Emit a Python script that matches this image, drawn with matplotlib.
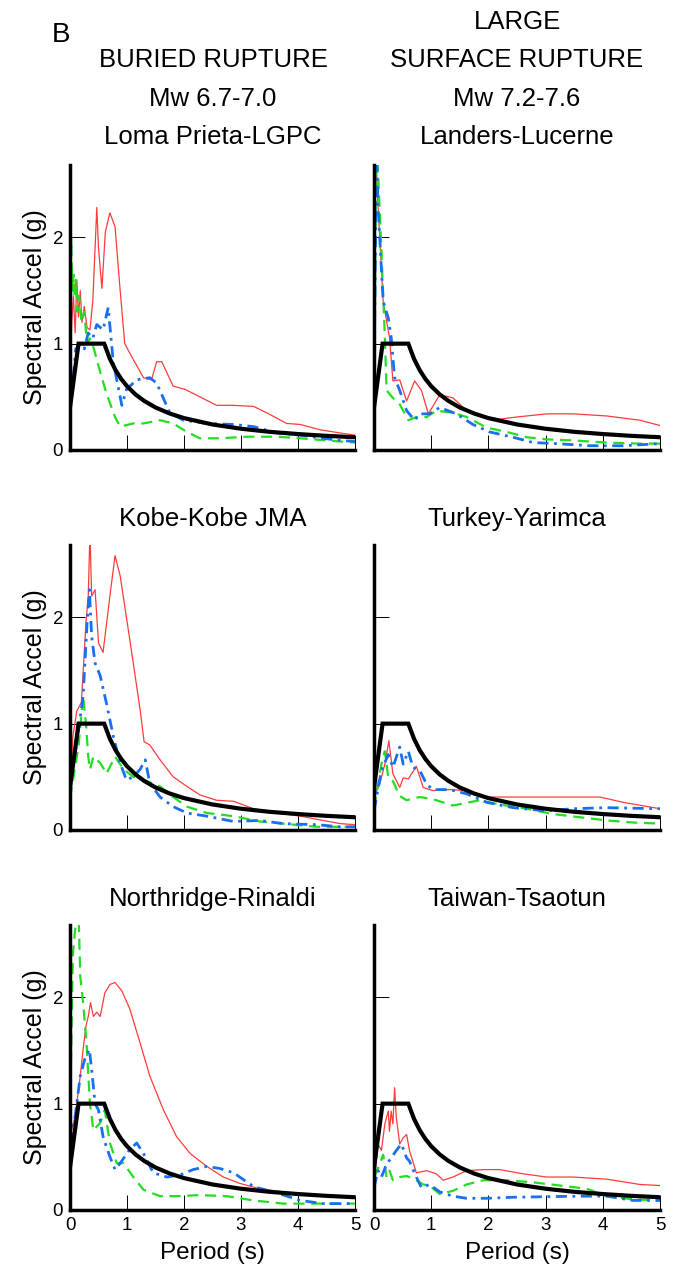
import matplotlib
matplotlib.use("Agg")
import matplotlib.pyplot as plt

plt.rcParams["font.family"] = ["Liberation Sans", "DejaVu Sans"]

# design spectrum (same in every panel)
design_T = [0, 0.15, 0.6, 0.7, 0.8, 0.9, 1.0, 1.15, 1.3, 1.5, 1.75, 2.0, 2.5, 3.0, 3.5, 4.0, 4.5, 5.0]
design_SA = [0.4, 1.0, 1.0, 0.857, 0.75, 0.667, 0.6, 0.522, 0.462, 0.4, 0.343, 0.3, 0.24, 0.2, 0.171, 0.15, 0.133, 0.12]

# Loma Prieta-LGPC
loma_red_T = [0, 0.03, 0.06, 0.09, 0.12, 0.15, 0.18, 0.21, 0.25, 0.3, 0.35, 0.4, 0.44, 0.47, 0.5, 0.56, 0.62, 0.7, 0.79, 0.88, 0.96,
              1.08, 1.29, 1.43, 1.52, 1.61, 1.81, 2.02, 2.28, 2.57, 2.87, 3.22, 3.45, 3.8, 4.04, 4.39, 4.74, 5.0]
loma_red = [0.69, 1.2, 1.45, 1.1, 1.6, 1.25, 1.5, 1.2, 1.35, 1.15, 1.13, 1.4, 1.9, 2.28, 1.9, 1.52, 2.05, 2.23, 2.1, 1.5, 1.0,
            0.88, 0.68, 0.66, 0.83, 0.83, 0.6, 0.57, 0.5, 0.42, 0.42, 0.41, 0.35, 0.25, 0.24, 0.19, 0.16, 0.14]
loma_blue_T = [0, 0.05, 0.1, 0.18, 0.25, 0.32, 0.4, 0.47, 0.58, 0.67, 0.76, 0.91, 0.99, 1.17, 1.4, 1.52, 1.75, 1.99, 2.4,
               2.87, 3.22, 3.63, 4.04, 4.44, 4.74, 5.0]
loma_blue = [0.45, 0.63, 0.95, 1.0, 0.95, 1.1, 1.05, 1.18, 1.13, 1.34, 0.82, 0.42, 0.57, 0.66, 0.68, 0.63, 0.35, 0.28, 0.25,
             0.24, 0.22, 0.16, 0.14, 0.11, 0.09, 0.08]
loma_green_T = [0, 0.02, 0.04, 0.06, 0.08, 0.1, 0.13, 0.16, 0.2, 0.25, 0.3, 0.35, 0.42, 0.5, 0.64, 0.79, 0.88, 1.11, 1.29,
                1.58, 1.81, 2.05, 2.28, 2.63, 3.1, 3.63, 4.04, 4.74, 5.0]
loma_green = [0.9, 2.0, 1.5, 1.65, 1.45, 1.6, 1.3, 1.45, 1.2, 1.3, 1.0, 1.05, 0.95, 0.79, 0.53, 0.31, 0.22, 0.25, 0.25,
              0.28, 0.25, 0.17, 0.11, 0.11, 0.125, 0.125, 0.11, 0.08, 0.07]

# Landers-Lucerne
landers_red_T = [0, 0.03, 0.06, 0.1, 0.16, 0.27, 0.33, 0.45, 0.57, 0.71, 0.83, 0.95, 1.15, 1.38, 1.62, 1.91, 2.2, 2.49,
                 3.02, 3.48, 4.07, 4.65, 5.0]
landers_red = [0.6, 2.9, 2.4, 2.0, 1.4, 1.06, 0.65, 0.66, 0.46, 0.65, 0.56, 0.34, 0.52, 0.49, 0.37, 0.31, 0.29, 0.31,
               0.34, 0.34, 0.32, 0.28, 0.23]
landers_blue_T = [0, 0.04, 0.07, 0.1, 0.16, 0.25, 0.3, 0.36, 0.45, 0.57, 0.71, 0.8, 0.97, 1.15, 1.44, 1.73, 2.02, 2.43,
                  2.78, 3.19, 3.77, 4.36, 5.0]
landers_blue = [0.5, 2.9, 2.3, 2.0, 1.4, 1.24, 1.06, 0.68, 0.56, 0.37, 0.28, 0.34, 0.34, 0.4, 0.34, 0.24, 0.17, 0.12,
                0.07, 0.06, 0.04, 0.04, 0.06]
landers_green_T = [0, 0.04, 0.08, 0.13, 0.19, 0.22, 0.33, 0.45, 0.6, 0.74, 0.92, 1.09, 1.38, 1.62, 1.97, 2.32, 2.67,
                   3.02, 3.48, 4.07, 4.65, 5.0]
landers_green = [0.4, 2.9, 2.5, 1.87, 1.06, 0.56, 0.49, 0.43, 0.28, 0.31, 0.31, 0.37, 0.35, 0.31, 0.21, 0.17, 0.12,
                 0.1, 0.09, 0.07, 0.06, 0.06]

# Kobe-Kobe JMA
kobe_red_T = [0, 0.05, 0.12, 0.2, 0.28, 0.32, 0.35, 0.38, 0.44, 0.5, 0.58, 0.7, 0.79, 0.88, 0.99, 1.11, 1.23, 1.3, 1.4,
              1.58, 1.81, 2.05, 2.28, 2.57, 2.87, 3.22, 3.63, 4.04, 4.44, 4.74, 5.0]
kobe_red = [0.4, 0.88, 1.12, 1.2, 1.95, 2.2, 2.8, 2.2, 2.26, 1.76, 1.67, 2.2, 2.58, 2.39, 2.0, 1.57, 1.13, 0.83, 0.8,
            0.66, 0.5, 0.41, 0.33, 0.28, 0.27, 0.2, 0.16, 0.13, 0.09, 0.06, 0.05]
kobe_blue_T = [0, 0.12, 0.23, 0.3, 0.34, 0.38, 0.44, 0.53, 0.64, 0.76, 0.88, 0.99, 1.11, 1.23, 1.32, 1.4, 1.58, 1.81,
               2.05, 2.4, 2.87, 3.33, 3.74, 4.33, 4.74, 5.0]
kobe_blue = [0.45, 0.82, 1.26, 1.95, 2.26, 1.82, 1.57, 1.45, 1.19, 0.88, 0.63, 0.47, 0.5, 0.57, 0.66, 0.44, 0.31, 0.22,
             0.16, 0.13, 0.08, 0.09, 0.06, 0.05, 0.03, 0.03]
kobe_green_T = [0, 0.15, 0.23, 0.28, 0.32, 0.35, 0.41, 0.53, 0.64, 0.79, 0.94, 1.11, 1.35, 1.58, 1.81, 2.05, 2.4, 2.87,
                3.33, 3.74, 4.33, 4.74, 5.0]
kobe_green = [0.3, 0.79, 1.26, 1.0, 0.69, 0.57, 0.69, 0.63, 0.53, 0.69, 0.57, 0.5, 0.46, 0.41, 0.31, 0.22, 0.16, 0.13,
              0.08, 0.06, 0.03, 0.03, 0.03]

# Turkey-Yarimca
turkey_red_T = [0, 0.1, 0.19, 0.26, 0.33, 0.45, 0.51, 0.6, 0.74, 0.86, 1.03, 1.32, 1.62, 1.97, 2.49, 3.02, 3.95, 4.36, 5.0]
turkey_red = [0.31, 0.43, 0.62, 0.84, 0.53, 0.4, 0.49, 0.48, 0.6, 0.4, 0.37, 0.38, 0.37, 0.31, 0.31, 0.31, 0.31, 0.26, 0.2]
turkey_blue_T = [0, 0.13, 0.25, 0.33, 0.45, 0.51, 0.6, 0.68, 0.8, 0.92, 1.03, 1.32, 1.62, 1.97, 2.43, 3.02, 3.48, 4.07, 5.0]
turkey_blue = [0.18, 0.56, 0.71, 0.59, 0.78, 0.62, 0.74, 0.59, 0.56, 0.43, 0.38, 0.38, 0.34, 0.26, 0.21, 0.18, 0.2, 0.21, 0.2]
turkey_green_T = [0, 0.13, 0.19, 0.25, 0.33, 0.45, 0.57, 0.8, 1.03, 1.38, 1.85, 2.2, 2.67, 3.13, 3.6, 4.07, 4.53, 5.0]
turkey_green = [0.21, 0.62, 0.74, 0.49, 0.46, 0.32, 0.28, 0.31, 0.29, 0.23, 0.28, 0.24, 0.2, 0.15, 0.12, 0.09, 0.07, 0.06]

# Northridge-Rinaldi
north_red_T = [0, 0.09, 0.18, 0.23, 0.28, 0.32, 0.36, 0.41, 0.47, 0.53, 0.61, 0.7, 0.79, 0.91, 1.05, 1.23, 1.4, 1.64, 1.87,
               2.11, 2.4, 2.69, 2.98, 3.33, 3.74, 4.33, 4.74, 5.0]
north_red = [0.69, 0.88, 1.26, 1.51, 1.73, 1.82, 1.95, 1.82, 1.86, 1.82, 2.04, 2.12, 2.14, 2.06, 1.89, 1.57, 1.26, 0.94,
             0.69, 0.53, 0.41, 0.31, 0.25, 0.2, 0.17, 0.14, 0.13, 0.12]
north_blue_T = [0, 0.09, 0.18, 0.26, 0.34, 0.38, 0.44, 0.5, 0.58, 0.7, 0.79, 0.88, 1.05, 1.17, 1.29, 1.46, 1.7, 1.93, 2.16,
                2.4, 2.63, 2.87, 3.22, 3.63, 4.04, 4.44, 4.74, 5.0]
north_blue = [0.63, 0.88, 1.26, 1.42, 1.51, 1.32, 1.0, 0.94, 0.69, 0.5, 0.38, 0.44, 0.57, 0.63, 0.53, 0.35, 0.31, 0.33,
              0.38, 0.41, 0.39, 0.35, 0.22, 0.16, 0.09, 0.06, 0.06, 0.06]
north_green_T = [0, 0.05, 0.09, 0.15, 0.18, 0.23, 0.29, 0.35, 0.41, 0.53, 0.61, 0.7, 0.82, 0.94, 1.11, 1.29, 1.58, 1.87,
                 2.28, 2.75, 3.22, 3.74, 4.33, 4.74, 5.0]
north_green = [0.88, 2.4, 2.64, 2.8, 2.2, 1.95, 1.57, 1.0, 0.75, 0.82, 0.94, 0.63, 0.44, 0.44, 0.31, 0.19, 0.13, 0.13,
               0.14, 0.13, 0.09, 0.06, 0.06, 0.06, 0.06]

# Taiwan-Tsaotun
taiwan_red_T = [0, 0.07, 0.13, 0.19, 0.25, 0.27, 0.3, 0.33, 0.36, 0.39, 0.45, 0.51, 0.57, 0.62, 0.74, 0.92, 1.09, 1.21,
                1.38, 1.62, 1.91, 2.2, 2.61, 3.02, 3.48, 4.07, 4.65, 5.0]
taiwan_red = [0.24, 0.62, 0.56, 0.81, 0.93, 0.74, 0.93, 0.81, 1.15, 0.87, 0.62, 0.68, 0.71, 0.56, 0.35, 0.37, 0.34, 0.28,
              0.31, 0.37, 0.38, 0.38, 0.34, 0.31, 0.31, 0.29, 0.24, 0.23]
taiwan_blue_T = [0, 0.07, 0.13, 0.22, 0.3, 0.39, 0.48, 0.57, 0.62, 0.74, 0.83, 0.97, 1.15, 1.38, 1.62, 1.97, 2.43, 3.02,
                 3.6, 4.07, 4.53, 5.0]
taiwan_blue = [0.21, 0.37, 0.31, 0.43, 0.49, 0.56, 0.62, 0.49, 0.46, 0.31, 0.21, 0.24, 0.17, 0.13, 0.11, 0.11, 0.12, 0.125,
               0.13, 0.13, 0.09, 0.09]
taiwan_green_T = [0, 0.1, 0.16, 0.22, 0.27, 0.33, 0.45, 0.57, 0.74, 0.86, 0.97, 1.15, 1.38, 1.62, 1.91, 2.32, 2.78, 3.25,
                  3.72, 4.07, 4.53, 5.0]
taiwan_green = [0.31, 0.43, 0.52, 0.31, 0.37, 0.28, 0.31, 0.32, 0.28, 0.24, 0.23, 0.15, 0.18, 0.24, 0.28, 0.28, 0.26, 0.23,
                0.2, 0.13, 0.1, 0.09]

panel_titles = ["Loma Prieta-LGPC", "Landers-Lucerne", "Kobe-Kobe JMA", "Turkey-Yarimca",
                "Northridge-Rinaldi", "Taiwan-Tsaotun"]
panel_data = [
    (loma_red_T, loma_red, loma_blue_T, loma_blue, loma_green_T, loma_green),
    (landers_red_T, landers_red, landers_blue_T, landers_blue, landers_green_T, landers_green),
    (kobe_red_T, kobe_red, kobe_blue_T, kobe_blue, kobe_green_T, kobe_green),
    (turkey_red_T, turkey_red, turkey_blue_T, turkey_blue, turkey_green_T, turkey_green),
    (north_red_T, north_red, north_blue_T, north_blue, north_green_T, north_green),
    (taiwan_red_T, taiwan_red, taiwan_blue_T, taiwan_blue, taiwan_green_T, taiwan_green),
]

RED = "#ff3b3b"
BLUE = "#1a6ff0"
GREEN = "#22dd22"
HEAD = 18.5

W, H = 673, 1275
fig = plt.figure(figsize=(W / 100, H / 100), dpi=100)

col_x = [70, 374]
col_w = [285, 286]
row_top = [165, 545, 925]
ax_h = 285

for i, title in enumerate(panel_titles):
    r, c = divmod(i, 2)
    left = col_x[c] / W
    bottom = (H - row_top[r] - ax_h) / H
    ax = fig.add_axes([left, bottom, col_w[c] / W, ax_h / H])
    rT, rS, bT, bS, gT, gS = panel_data[i]

    ax.plot(rT, rS, color=RED, lw=0.9)
    ax.plot(gT, gS, color=GREEN, lw=1.6, dashes=(5, 3))
    ax.plot(bT, bS, color=BLUE, lw=2.0, dashes=(4, 2, 1, 2))
    ax.plot(design_T, design_SA, color="black", lw=3.0, solid_joinstyle="miter")

    ax.set_xlim(0, 5)
    ax.set_ylim(0, 2.68)
    for s in ["top", "right"]:
        ax.spines[s].set_visible(False)
    for s in ["left", "bottom"]:
        ax.spines[s].set_linewidth(2.5)
    ax.set_xticks([0, 1, 2, 3, 4, 5])
    ax.set_yticks([0, 1, 2])
    ax.tick_params(direction="in", length=11, width=0.7, labelsize=13.5, pad=5)

    if r < 2:
        ax.tick_params(labelbottom=False)
    else:
        ax.set_xlabel("Period (s)", fontsize=17.5, labelpad=6)
    if c == 1:
        ax.tick_params(labelleft=False)
    else:
        ax.set_ylabel("Spectral Accel (g)", fontsize=18, labelpad=4)

    cx = (col_x[c] + col_w[c] / 2) / W
    ty = 137 if r == 0 else row_top[r] - 26
    fig.text(cx, 1 - ty / H, title, ha="center", va="center", fontsize=HEAD)

fig.text(52 / W, 1 - 35 / H, "B", ha="left", va="center", fontsize=20)
fig.text(213 / W, 1 - 60 / H, "BURIED RUPTURE", ha="center", va="center", fontsize=HEAD)
fig.text(213 / W, 1 - 99 / H, "Mw 6.7-7.0", ha="center", va="center", fontsize=HEAD)
fig.text(517 / W, 1 - 22 / H, "LARGE", ha="center", va="center", fontsize=HEAD)
fig.text(517 / W, 1 - 60 / H, "SURFACE RUPTURE", ha="center", va="center", fontsize=HEAD)
fig.text(517 / W, 1 - 99 / H, "Mw 7.2-7.6", ha="center", va="center", fontsize=HEAD)

fig.savefig("out.png", dpi=100)
